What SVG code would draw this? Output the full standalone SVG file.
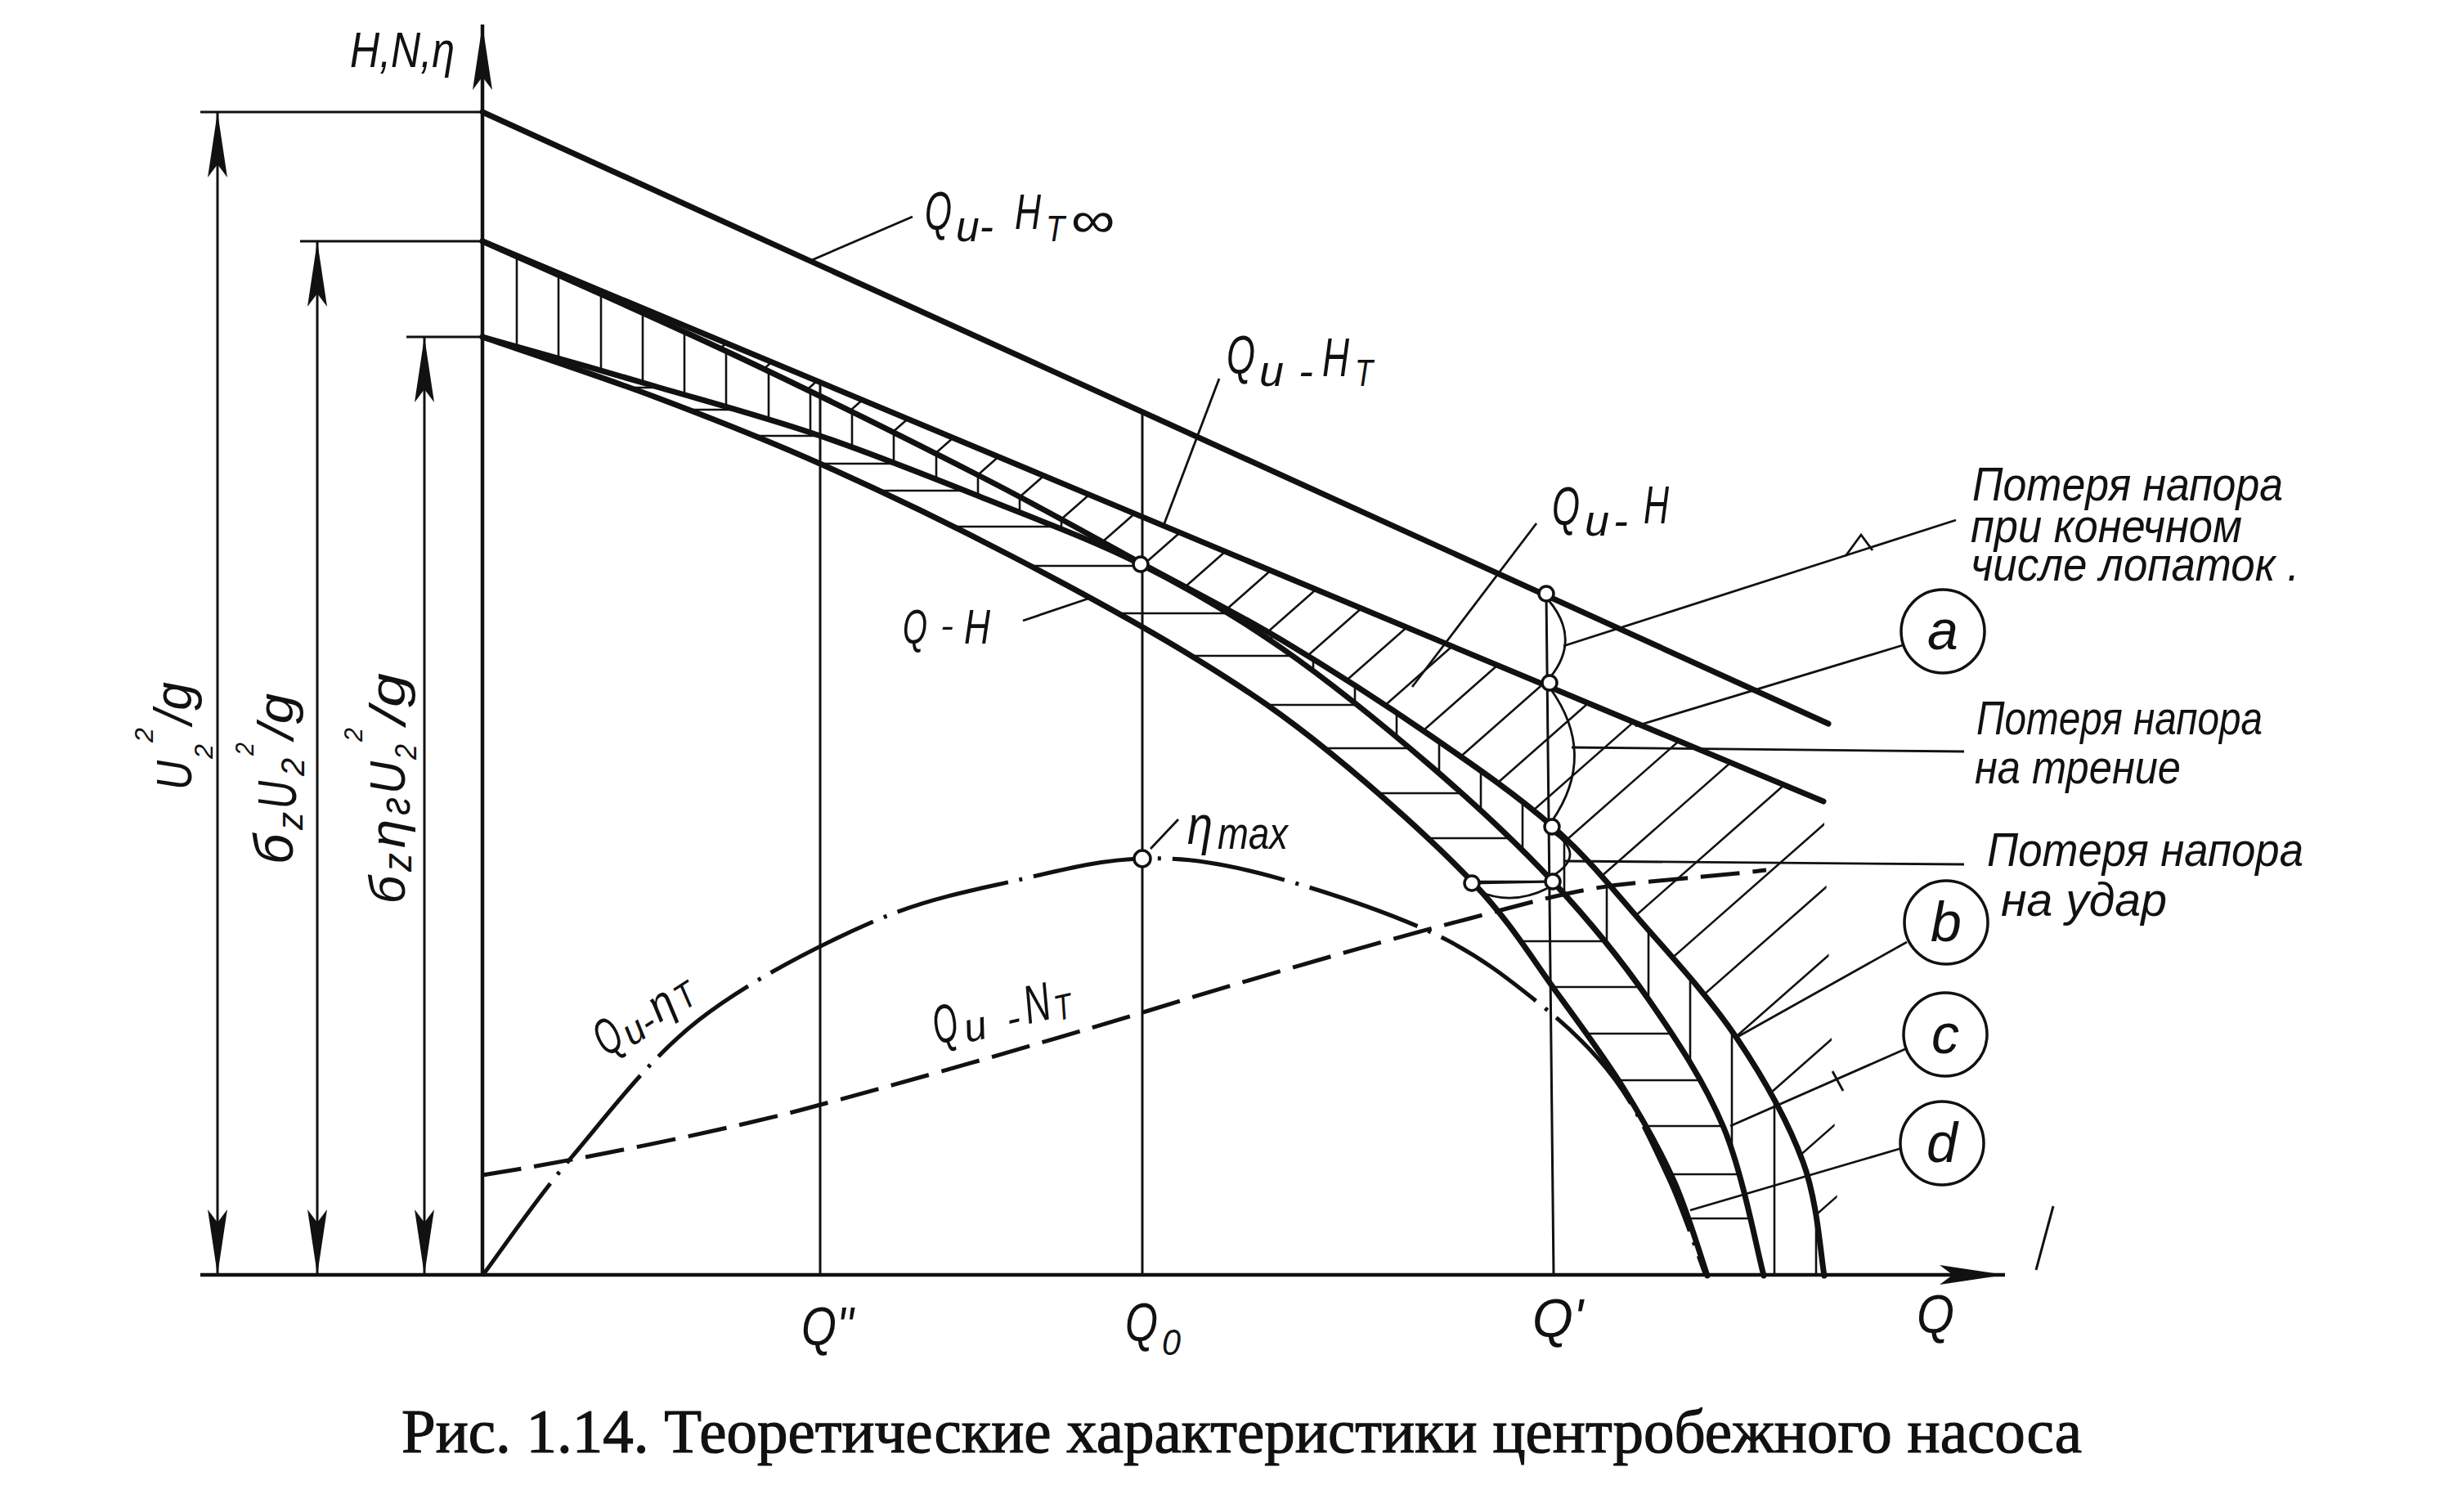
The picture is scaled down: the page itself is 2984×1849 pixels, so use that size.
<svg xmlns="http://www.w3.org/2000/svg" width="2984" height="1849" viewBox="0 0 2984 1849">
<defs>
<style>
.thick{fill:none;stroke:#111;stroke-width:7;stroke-linecap:round;stroke-linejoin:round}
.axis{fill:none;stroke:#111;stroke-width:4.5}
.thin{fill:none;stroke:#111;stroke-width:3}
.hatch{fill:none;stroke:#111;stroke-width:2.6}
.lead{fill:none;stroke:#111;stroke-width:2.8}
.dashdot{fill:none;stroke:#111;stroke-width:5;stroke-dasharray:140 14 4 14}
.dash{fill:none;stroke:#111;stroke-width:5;stroke-dasharray:48 16}
.pt{fill:#fff;stroke:#111;stroke-width:3.5}
.ring{fill:none;stroke:#111;stroke-width:3.5}
.lbl{font-family:"Liberation Sans","DejaVu Sans",sans-serif;font-style:italic;fill:#111}
.cap{font-family:"Liberation Serif","DejaVu Serif",serif;fill:#111;stroke:#111;stroke-width:1.2}
</style>
<marker id="arr" viewBox="0 0 80 24" refX="80" refY="12" markerWidth="80" markerHeight="24" markerUnits="userSpaceOnUse" orient="auto-start-reverse"><path d="M0,0 L80,12 L0,24 L16,12 Z" fill="#111"/></marker>
<clipPath id="cA"><polygon points="590,295 2230,980 2250,1560 590,1560"/></clipPath>
<clipPath id="cB"><path d="M590,295 C641.7,318.3 798.3,387 900,435 C1001.7,483 1117,540.5 1200,583 C1283,625.5 1336.7,656.7 1398,690 C1459.3,723.3 1509.3,748 1568,783 C1626.7,818 1694.8,862 1750,900 C1805.2,938 1856.3,973.3 1899,1011 C1941.7,1048.7 1968.7,1083.2 2006,1126 C2043.3,1168.8 2089.8,1218.8 2123,1268 C2156.2,1317.2 2187,1372.3 2205,1421 C2223,1469.7 2226.7,1536.8 2231,1560 L3000,1560 L3000,0 L590,0 Z"/></clipPath>
<clipPath id="cC"><path d="M590,295 C641.7,318.3 798.3,387 900,435 C1001.7,483 1117,540.5 1200,583 C1283,625.5 1336.7,656.7 1398,690 C1459.3,723.3 1509.3,748 1568,783 C1626.7,818 1694.8,862 1750,900 C1805.2,938 1856.3,973.3 1899,1011 C1941.7,1048.7 1968.7,1083.2 2006,1126 C2043.3,1168.8 2089.8,1218.8 2123,1268 C2156.2,1317.2 2187,1372.3 2205,1421 C2223,1469.7 2226.7,1536.8 2231,1560 L590,1560 Z"/></clipPath>
<clipPath id="cD"><path d="M590,412 C625,421.7 731.7,452 800,472 C868.3,492 933.3,509.3 1000,532 C1066.7,554.7 1134.2,581.7 1200,608 C1265.8,634.3 1333.7,659.2 1395,690 C1456.3,720.8 1508.8,751.8 1568,793 C1627.2,834.2 1694.8,889.5 1750,937 C1805.2,984.5 1854.7,1030.5 1899,1078 C1943.3,1125.5 1981.2,1171.8 2016,1222 C2050.8,1272.2 2084.5,1322.7 2108,1379 C2131.5,1435.3 2148.8,1529.8 2157,1560 L3000,1560 L3000,0 L590,0 Z"/></clipPath>
<clipPath id="cE"><path d="M590,412 C625,421.7 731.7,452 800,472 C868.3,492 933.3,509.3 1000,532 C1066.7,554.7 1134.2,581.7 1200,608 C1265.8,634.3 1333.7,659.2 1395,690 C1456.3,720.8 1508.8,751.8 1568,793 C1627.2,834.2 1694.8,889.5 1750,937 C1805.2,984.5 1854.7,1030.5 1899,1078 C1943.3,1125.5 1981.2,1171.8 2016,1222 C2050.8,1272.2 2084.5,1322.7 2108,1379 C2131.5,1435.3 2148.8,1529.8 2157,1560 L590,1560 Z"/></clipPath>
<clipPath id="cF"><path d="M590,412 C625,424.2 730.8,459 800,485 C869.2,511 932.2,535.5 1005,568 C1077.8,600.5 1160.3,640.2 1237,680 C1313.7,719.8 1400.2,767 1465,807 C1529.8,847 1569.8,874.5 1626,920 C1682.2,965.5 1755.7,1031 1802,1080 C1848.3,1129 1873.5,1172.3 1904,1214 C1934.5,1255.7 1961.2,1291.7 1985,1330 C2008.8,1368.3 2029.8,1405.7 2047,1444 C2064.2,1482.3 2081.2,1540.7 2088,1560 L3000,1560 L3000,0 L590,0 Z"/></clipPath>
</defs>
<rect width="2984" height="1849" fill="#fff"/>

<g id="hatching">
<g clip-path="url(#cA)"><g clip-path="url(#cB)">
<path class="hatch" d="M590,682L2300,-823M590,754L2300,-751M590,826L2300,-679M590,898L2300,-607M590,970L2300,-535M590,1042L2300,-463M590,1114L2300,-391M590,1186L2300,-319M590,1258L2300,-247M590,1330L2300,-175M590,1402L2300,-103M590,1474L2300,-31M590,1546L2300,41M590,1618L2300,113M590,1690L2300,185M590,1762L2300,257M590,1834L2300,329M590,1906L2300,401M590,1978L2300,473M590,2050L2300,545M590,2122L2300,617M590,2194L2300,689M590,2276L2300,771M590,2361L2300,856M590,2452L2300,947M590,2531L2300,1026M590,2617L2300,1112M590,2723L2300,1218M590,2831L2300,1326M590,2921L2300,1416"/>
</g></g>
<g clip-path="url(#cC)"><g clip-path="url(#cD)">
<path class="hatch" d="M632,280V1560M683,280V1560M735,280V1560M786,280V1560M837,280V1560M888,280V1560M940,280V1560M991,280V1560M1042,280V1560M1093,280V1560M1145,280V1560M1196,280V1560M1247,280V1560M1298,280V1560M1350,280V1560M1401,280V1560M1452,280V1560M1503,280V1560M1555,280V1560M1606,280V1560M1657,280V1560M1708,280V1560M1760,280V1560M1811,280V1560M1862,280V1560M1913,280V1560M1965,280V1560M2016,280V1560M2067,280V1560M2118,280V1560M2170,280V1560M2221,280V1560"/>
</g></g>
<g clip-path="url(#cE)"><g clip-path="url(#cF)">
<path class="hatch" d="M590,474H2300M590,501H2300M590,533H2300M590,567H2300M590,600H2300M590,644H2300M590,692H2300M590,750H2300M590,802H2300M590,862H2300M590,915H2300M590,970H2300M590,1025H2300M590,1078H2300M590,1151H2300M590,1207H2300M590,1264H2300M590,1321H2300M590,1377H2300M590,1436H2300M590,1490H2300"/>
</g></g>
</g>

<g id="axes">
<line class="axis" x1="590" y1="1560" x2="590" y2="30" marker-end="url(#arr)"/>
<line class="axis" x1="245" y1="1559" x2="2452" y2="1559" marker-end="url(#arr)"/>
<line class="thin" x1="2511" y1="1475" x2="2490" y2="1553"/>
</g>

<g id="dimensions">
<line class="thin" x1="245" y1="137" x2="590" y2="137"/>
<line class="thin" x1="367" y1="295" x2="590" y2="295"/>
<line class="thin" x1="497" y1="412" x2="590" y2="412"/>
<line class="thin" x1="266" y1="137" x2="266" y2="1559" marker-start="url(#arr)" marker-end="url(#arr)"/>
<line class="thin" x1="388" y1="295" x2="388" y2="1559" marker-start="url(#arr)" marker-end="url(#arr)"/>
<line class="thin" x1="519" y1="412" x2="519" y2="1559" marker-start="url(#arr)" marker-end="url(#arr)"/>
</g>

<g id="ordinates">
<line class="thin" x1="1003" y1="466" x2="1003" y2="1559"/>
<line class="thin" x1="1397" y1="503" x2="1397" y2="1559"/>
<line class="thin" x1="1891" y1="726" x2="1900" y2="1559"/>
</g>

<g id="curves">
<line id="HTinf" class="thick" x1="590" y1="137" x2="2236" y2="885"/>
<line id="HT" class="thick" x1="590" y1="295" x2="2230" y2="980"/>
<path id="F" class="thick" d="M590,295 C641.7,318.3 798.3,387 900,435 C1001.7,483 1117,540.5 1200,583 C1283,625.5 1336.7,656.7 1398,690 C1459.3,723.3 1509.3,748 1568,783 C1626.7,818 1694.8,862 1750,900 C1805.2,938 1856.3,973.3 1899,1011 C1941.7,1048.7 1968.7,1083.2 2006,1126 C2043.3,1168.8 2089.8,1218.8 2123,1268 C2156.2,1317.2 2187,1372.3 2205,1421 C2223,1469.7 2226.7,1536.8 2231,1560"/>
<path id="QuH" class="thick" d="M590,412 C625,421.7 731.7,452 800,472 C868.3,492 933.3,509.3 1000,532 C1066.7,554.7 1134.2,581.7 1200,608 C1265.8,634.3 1333.7,659.2 1395,690 C1456.3,720.8 1508.8,751.8 1568,793 C1627.2,834.2 1694.8,889.5 1750,937 C1805.2,984.5 1854.7,1030.5 1899,1078 C1943.3,1125.5 1981.2,1171.8 2016,1222 C2050.8,1272.2 2084.5,1322.7 2108,1379 C2131.5,1435.3 2148.8,1529.8 2157,1560"/>
<path id="QH" class="thick" d="M590,412 C625,424.2 730.8,459 800,485 C869.2,511 932.2,535.5 1005,568 C1077.8,600.5 1160.3,640.2 1237,680 C1313.7,719.8 1400.2,767 1465,807 C1529.8,847 1569.8,874.5 1626,920 C1682.2,965.5 1755.7,1031 1802,1080 C1848.3,1129 1873.5,1172.3 1904,1214 C1934.5,1255.7 1961.2,1291.7 1985,1330 C2008.8,1368.3 2029.8,1405.7 2047,1444 C2064.2,1482.3 2081.2,1540.7 2088,1560"/>
<path id="eta" class="dashdot" d="M590,1560 C608.3,1535.7 655.8,1466.2 700,1414 C744.2,1361.8 793.7,1294.8 855,1247 C916.3,1199.2 1002.2,1155.7 1068,1127 C1133.8,1098.3 1195.2,1087.8 1250,1075 C1304.8,1062.2 1348.5,1051.2 1397,1050 C1445.5,1048.8 1482.2,1053 1541,1068 C1599.8,1083 1693.3,1113.7 1750,1140 C1806.7,1166.3 1843.5,1196 1881,1226 C1918.5,1256 1948.5,1284.3 1975,1320 C2001.5,1355.7 2021.5,1400 2040,1440 C2058.5,1480 2078.3,1540 2086,1560"/>
<path id="N" class="dash" d="M590,1437 C700,1420 900,1380 1003,1351 C1120,1320 1300,1268 1401,1237 C1520,1200 1700,1148 1798,1123 C1870,1104 1930,1086 1998,1080 C2060,1074 2110,1070 2160,1064"/>
</g>

<g id="qprime-marks">
<path class="lead" d="M1893,733 Q1934,781 1896,828"/>
<path class="lead" d="M1896,842 Q1954,923 1898,1004"/>
<path class="lead" d="M1899,1018 Q1941,1045 1899,1071"/>
<path class="lead" d="M1808,1090 Q1850,1108 1893,1086"/>
<line class="lead" x1="1800" y1="1080" x2="1899" y2="1078"/>
</g>

<g id="points">
<circle class="pt" cx="1891" cy="726" r="9"/>
<circle class="pt" cx="1895" cy="835" r="9"/>
<circle class="pt" cx="1898" cy="1011" r="9"/>
<circle class="pt" cx="1899" cy="1078" r="9"/>
<circle class="pt" cx="1800" cy="1080" r="9"/>
<circle class="pt" cx="1395" cy="690" r="9"/>
<circle class="pt" cx="1397" cy="1050" r="10"/>
</g>

<g id="leaders">
<line class="lead" x1="1116" y1="265" x2="993" y2="318" stroke="#555"/>
<line class="lead" x1="1491" y1="463" x2="1424" y2="640"/>
<line class="lead" x1="1879" y1="640" x2="1727" y2="840"/>
<line class="lead" x1="1251" y1="759" x2="1331" y2="732"/>
<line class="lead" x1="1407" y1="1038" x2="1441" y2="1002"/>
<line class="lead" x1="2392" y1="636" x2="1912" y2="790"/>
<polyline class="lead" points="2257,680 2276,654 2290,673"/>
<line class="lead" x1="2327" y1="789" x2="2000" y2="888"/>
<line class="lead" x1="1922" y1="914" x2="2402" y2="919"/>
<line class="lead" x1="1914" y1="1053" x2="2402" y2="1057"/>
<line class="lead" x1="2332" y1="1152" x2="2123" y2="1269"/>
<line class="lead" x1="2332" y1="1282" x2="2116" y2="1377"/>
<line class="lead" x1="2241" y1="1310" x2="2254" y2="1334"/>
<line class="lead" x1="2326" y1="1404" x2="2067" y2="1480"/>
</g>

<g id="node-a"><circle class="ring" cx="2376" cy="772" r="51"/><text class="lbl" x="2376" y="794" font-size="68" text-anchor="middle">a</text></g>
<g id="node-b"><circle class="ring" cx="2380" cy="1128" r="51"/><text class="lbl" x="2380" y="1151" font-size="68" text-anchor="middle">b</text></g>
<g id="node-c"><circle class="ring" cx="2379" cy="1265" r="51"/><text class="lbl" x="2379" y="1288" font-size="68" text-anchor="middle">c</text></g>
<g id="node-d"><circle class="ring" cx="2375" cy="1398" r="51"/><text class="lbl" x="2375" y="1421" font-size="68" text-anchor="middle">d</text></g>

<g id="labels">
<text class="lbl" x="428" y="82" font-size="62" textLength="128" lengthAdjust="spacingAndGlyphs">H,N,η</text>

<text class="lbl"><tspan x="1131" y="281" font-size="66" textLength="33" lengthAdjust="spacingAndGlyphs">Q</tspan><tspan x="1169" y="295" font-size="54" textLength="46" lengthAdjust="spacingAndGlyphs">u-</tspan><tspan x="1241" y="280" font-size="62" textLength="32" lengthAdjust="spacingAndGlyphs">H</tspan><tspan x="1279" y="295" font-size="44" textLength="23" lengthAdjust="spacingAndGlyphs">T</tspan><tspan x="1309" y="290" font-size="62" textLength="54" lengthAdjust="spacingAndGlyphs">∞</tspan></text>

<text class="lbl"><tspan x="1500" y="457" font-size="66" textLength="35" lengthAdjust="spacingAndGlyphs">Q</tspan><tspan x="1540" y="472" font-size="54" textLength="66" lengthAdjust="spacing">u-</tspan><tspan x="1617" y="460" font-size="66" textLength="33" lengthAdjust="spacingAndGlyphs">H</tspan><tspan x="1657" y="472" font-size="46" textLength="22" lengthAdjust="spacingAndGlyphs">T</tspan></text>

<text class="lbl"><tspan x="1898" y="642" font-size="66" textLength="34" lengthAdjust="spacingAndGlyphs">Q</tspan><tspan x="1938" y="655" font-size="54" textLength="53" lengthAdjust="spacing">u-</tspan><tspan x="2010" y="640" font-size="64" textLength="31" lengthAdjust="spacingAndGlyphs">H</tspan></text>

<text class="lbl"><tspan x="1104" y="787" font-size="60" textLength="30" lengthAdjust="spacingAndGlyphs">Q</tspan><tspan x="1150" y="779" font-size="40" textLength="16" lengthAdjust="spacingAndGlyphs">-</tspan><tspan x="1179" y="787" font-size="60" textLength="32" lengthAdjust="spacingAndGlyphs">H</tspan></text>

<text class="lbl"><tspan x="1452" y="1032" font-size="66" textLength="31" lengthAdjust="spacingAndGlyphs">η</tspan><tspan x="1489" y="1038" font-size="56" textLength="86" lengthAdjust="spacingAndGlyphs">max</tspan></text>

<text class="lbl" transform="translate(742,1293) rotate(-33)"><tspan x="0" y="0" font-size="62" textLength="30" lengthAdjust="spacingAndGlyphs">Q</tspan><tspan x="33" y="6" font-size="46" textLength="40" lengthAdjust="spacingAndGlyphs">u-</tspan><tspan x="77" y="0" font-size="56" textLength="29" lengthAdjust="spacingAndGlyphs">η</tspan><tspan x="110" y="4" font-size="44" textLength="23" lengthAdjust="spacingAndGlyphs">T</tspan></text>

<text class="lbl" transform="translate(1146,1277) rotate(-12.5)"><tspan x="0" y="0" font-size="66" textLength="30" lengthAdjust="spacingAndGlyphs">Q</tspan><tspan x="36" y="6" font-size="50" textLength="70" lengthAdjust="spacing">u-</tspan><tspan x="114" y="0" font-size="66" textLength="32" lengthAdjust="spacingAndGlyphs">N</tspan><tspan x="150" y="4" font-size="44" textLength="21" lengthAdjust="spacingAndGlyphs">T</tspan></text>

<text class="lbl" transform="translate(234,966) rotate(-90)"><tspan x="0" y="0" font-size="62" textLength="36" lengthAdjust="spacingAndGlyphs">U</tspan><tspan x="38" y="26" font-size="32" textLength="18" lengthAdjust="spacingAndGlyphs">2</tspan><tspan x="58" y="-47" font-size="32" textLength="18" lengthAdjust="spacingAndGlyphs">2</tspan><tspan x="80" y="0" font-size="64" textLength="52" lengthAdjust="spacingAndGlyphs">/g</tspan></text>

<text class="lbl" transform="translate(358,1057) rotate(-90)"><tspan x="0" y="0" font-size="66" textLength="37" lengthAdjust="spacingAndGlyphs">б</tspan><tspan x="42" y="12" font-size="44" textLength="22" lengthAdjust="spacingAndGlyphs">z</tspan><tspan x="68" y="4" font-size="66" textLength="34" lengthAdjust="spacingAndGlyphs">U</tspan><tspan x="108" y="14" font-size="40" textLength="22" lengthAdjust="spacingAndGlyphs">2</tspan><tspan x="133" y="-48" font-size="32" textLength="16" lengthAdjust="spacingAndGlyphs">2</tspan><tspan x="153" y="0" font-size="62" textLength="56" lengthAdjust="spacingAndGlyphs">/g</tspan></text>

<text class="lbl" transform="translate(495,1105) rotate(-90)"><tspan x="0" y="0" font-size="62" textLength="34" lengthAdjust="spacingAndGlyphs">б</tspan><tspan x="39" y="8" font-size="50" textLength="23" lengthAdjust="spacingAndGlyphs">z</tspan><tspan x="68" y="0" font-size="62" textLength="35" lengthAdjust="spacingAndGlyphs">η</tspan><tspan x="108" y="6" font-size="54" textLength="22" lengthAdjust="spacingAndGlyphs">г</tspan><tspan x="134" y="0" font-size="62" textLength="40" lengthAdjust="spacingAndGlyphs">U</tspan><tspan x="176" y="14" font-size="36" textLength="19" lengthAdjust="spacingAndGlyphs">2</tspan><tspan x="198" y="-52" font-size="32" textLength="17" lengthAdjust="spacingAndGlyphs">2</tspan><tspan x="219" y="0" font-size="62" textLength="63" lengthAdjust="spacingAndGlyphs">/g</tspan></text>

<text class="lbl" font-size="66"><tspan x="980" y="1645" textLength="64" lengthAdjust="spacingAndGlyphs">Q''</tspan></text>
<text class="lbl"><tspan x="1376" y="1640" font-size="66" textLength="40" lengthAdjust="spacingAndGlyphs">Q</tspan><tspan x="1421" y="1657" font-size="44" textLength="23" lengthAdjust="spacingAndGlyphs">0</tspan></text>
<text class="lbl" x="1874" y="1635" font-size="66" textLength="62" lengthAdjust="spacingAndGlyphs">Q'</text>
<text class="lbl" x="2344" y="1630" font-size="66" textLength="46" lengthAdjust="spacingAndGlyphs">Q</text>

<text class="lbl" font-size="58"><tspan x="2412" y="612" textLength="380" lengthAdjust="spacingAndGlyphs">Потеря напора</tspan><tspan x="2410" y="663" textLength="332" lengthAdjust="spacingAndGlyphs">при конечном</tspan><tspan x="2410" y="710" textLength="402" lengthAdjust="spacingAndGlyphs">числе лопаток .</tspan></text>
<text class="lbl" font-size="58"><tspan x="2417" y="898" textLength="350" lengthAdjust="spacingAndGlyphs">Потеря напора</tspan><tspan x="2415" y="958" textLength="252" lengthAdjust="spacingAndGlyphs">на трение</tspan></text>
<text class="lbl" font-size="58"><tspan x="2430" y="1059" textLength="387" lengthAdjust="spacingAndGlyphs">Потеря  напора</tspan><tspan x="2447" y="1120" textLength="203" lengthAdjust="spacingAndGlyphs">на удар</tspan></text>
</g>

<g id="caption">
<text class="cap" x="491" y="1776" font-size="76" textLength="2055" lengthAdjust="spacingAndGlyphs">Рис. 1.14. Теоретические характеристики центробежного насоса</text>
</g>
</svg>
